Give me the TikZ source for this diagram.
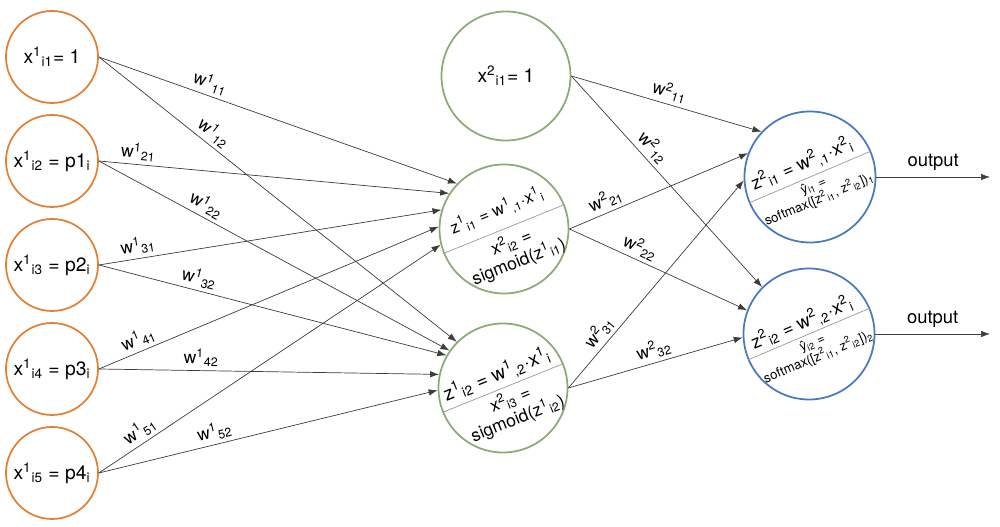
\documentclass[tikz,border=0pt]{standalone}
\usepackage{fontspec}
\setmainfont{TeX Gyre Heros}
\usetikzlibrary{arrows.meta}
\definecolor{inorange}{RGB}{226,128,52}
\definecolor{hidgreen}{RGB}{140,170,118}
\definecolor{outblue}{RGB}{72,122,190}
\definecolor{wiregray}{RGB}{60,60,60}
\newcommand{\supb}[2]{\textsuperscript{#1}\textsubscript{#2}}

\begin{document}
\begin{tikzpicture}[>={Latex[length=1.8mm,width=1.3mm]},
  inp/.style={circle,draw=inorange,line width=1pt,minimum size=1.84cm,inner sep=0pt,font=\fontsize{11}{13}\selectfont},
  hid/.style={circle,draw=hidgreen,line width=1pt,minimum size=2.58cm,inner sep=0pt,font=\fontsize{11}{13}\selectfont},
  outn/.style={circle,draw=outblue,line width=1pt,minimum size=2.62cm,inner sep=0pt},
  wire/.style={->,draw=wiregray,line width=0.4pt},
  wlab/.style={sloped,above,inner sep=2pt,font=\fontsize{10}{12}\selectfont},
  divider/.style={draw=gray!80,line width=0.4pt}]
\useasboundingbox (0,0) rectangle (20,10.54);
\node[inp] (in1) at (1.04,9.40) {x\supb{1}{i1}= 1};
\node[inp] (in2) at (1.04,7.32) {x\supb{1}{i2} = p1\textsubscript{i}};
\node[inp] (in3) at (1.04,5.24) {x\supb{1}{i3} = p2\textsubscript{i}};
\node[inp] (in4) at (1.04,3.16) {x\supb{1}{i4} = p3\textsubscript{i}};
\node[inp] (in5) at (1.04,1.08) {x\supb{1}{i5} = p4\textsubscript{i}};
\node[hid] (h1) at (10.12,9.02) {x\supb{2}{i1}= 1};
\node[hid] (m2) at (10.08,5.96) {};
\node[hid] (m3) at (10.06,2.78) {};
\node[outn] (out1) at (16.2,7.0) {};
\node[outn] (out2) at (16.18,3.86) {};
\coordinate (o1) at (19.8,7.0);
\coordinate (o2) at (19.8,3.86);
\draw[divider] (m2.202) -- (m2.22);
\draw[divider] (m3.202) -- (m3.22);
\draw[divider] (out1.203) -- (out1.23);
\draw[divider] (out2.203) -- (out2.23);
\node[rotate=22,font=\fontsize{9.5}{11}\selectfont] (m2z) at ([shift={(-0.14,0.36)}]m2.center) {z\supb{1}{i1} = w\supb{1}{,1}·x\supb{1}{i}};
\node[rotate=22,align=center,font=\fontsize{10}{11.5}\selectfont] (m2x) at ([shift={(0.22,-0.46)}]m2.center) {x\supb{2}{i2} =\\sigmoid(z\supb{1}{i1})};
\node[rotate=22,font=\fontsize{11}{13}\selectfont] (m3z) at ([shift={(-0.12,0.26)}]m3.center) {z\supb{1}{i2} = w\supb{1}{,2}·x\supb{1}{i}};
\node[rotate=22,align=center,font=\fontsize{10}{11.5}\selectfont] (m3x) at ([shift={(0.22,-0.42)}]m3.center) {x\supb{2}{i3} =\\sigmoid(z\supb{1}{i2})};
\node[rotate=23,font=\fontsize{10.5}{12}\selectfont] (out1z) at ([shift={(-0.16,0.26)}]out1.center) {z\supb{2}{i1} = w\supb{2}{,1}·x\supb{2}{i}};
\node[rotate=23,align=center,font=\fontsize{7.5}{8.5}\selectfont] (out1y) at ([shift={(0.13,-0.32)}]out1.center) {ŷ\textsubscript{i1} =\\softmax([z\supb{2}{i1}, z\supb{2}{i2}])\textsubscript{1}};
\node[rotate=23,font=\fontsize{10.5}{12}\selectfont] (out2z) at ([shift={(-0.14,0.22)}]out2.center) {z\supb{2}{i2} = w\supb{2}{,2}·x\supb{2}{i}};
\node[rotate=23,align=center,font=\fontsize{7.5}{8.5}\selectfont] (out2y) at ([shift={(0.13,-0.33)}]out2.center) {ŷ\textsubscript{i2} =\\softmax([z\supb{2}{i1}, z\supb{2}{i2}])\textsubscript{2}};
\draw[wire] (in1.east) -- (m2.136) node[wlab,pos=0.30]{w\supb{1}{11}};
\draw[wire] (in1.east) -- (m3.135) node[wlab,pos=0.30]{w\supb{1}{12}};
\draw[wire] (in2.east) -- (m2.147) node[wlab,pos=0.11]{w\supb{1}{21}};
\draw[wire] (in2.east) -- (m3.145) node[wlab,pos=0.29]{w\supb{1}{22}};
\draw[wire] (in3.east) -- (m2.163) node[wlab,pos=0.12]{w\supb{1}{31}};
\draw[wire] (in3.east) -- (m3.150) node[wlab,pos=0.28]{w\supb{1}{32}};
\draw[wire] (in4.east) -- (m2.178) node[wlab,pos=0.13]{w\supb{1}{41}};
\draw[wire] (in4.east) -- (m3.168) node[wlab,pos=0.30]{w\supb{1}{42}};
\draw[wire] (in5.east) -- (m2.194) node[wlab,pos=0.14]{w\supb{1}{51}};
\draw[wire] (in5.east) -- (m3.182) node[wlab,pos=0.35]{w\supb{1}{52}};
\draw[wire] (h1.east) -- (out1.137) node[wlab,pos=0.50]{w\supb{2}{11}};
\draw[wire] (h1.east) -- (out2.135) node[wlab,pos=0.38]{w\supb{2}{12}};
\draw[wire] (m2.east) -- (out1.159) node[wlab,pos=0.23]{w\supb{2}{21}};
\draw[wire] (m2.east) -- (out2.159) node[wlab,pos=0.37]{w\supb{2}{22}};
\draw[wire] (m3.east) -- (out1.183) node[wlab,pos=0.23]{w\supb{2}{31}};
\draw[wire] (m3.east) -- (out2.183) node[wlab,pos=0.51]{w\supb{2}{32}};
\draw[wire] (out1.east) -- (o1) node[midway,above,font=\fontsize{10.5}{12}\selectfont]{output};
\draw[wire] (out2.east) -- (o2) node[midway,above,font=\fontsize{10.5}{12}\selectfont]{output};
\end{tikzpicture}
\end{document}
